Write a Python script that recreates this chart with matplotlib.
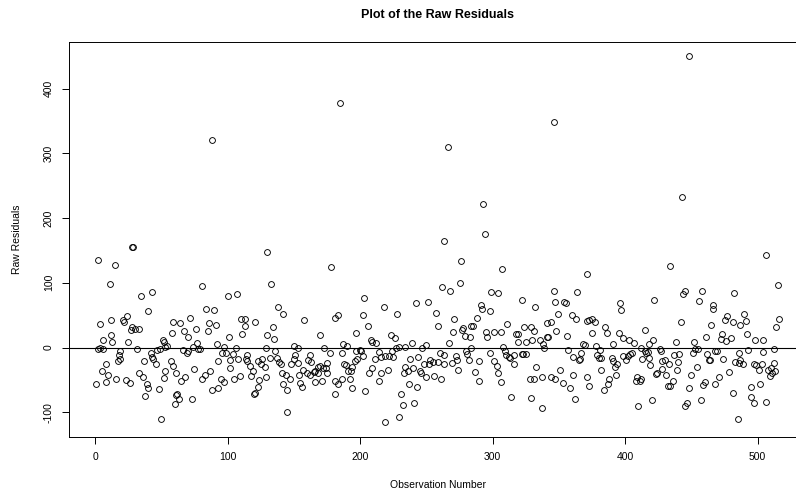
import matplotlib.pyplot as plt

# observation number (x) and raw residual (y), left to right
obs_number = [
    2, 15, 28, 29, 11, 35, 43, 40, 4, 12,
    21, 24, 22, 28, 30, 33, 27, 59, 58, 6,
    12, 13, 25, 51, 52, 53, 54, 2, 6, 32,
    47, 49, 19, 18, 42, 43, 44, 17, 19, 46,
    37, 57, 59, 8, 5, 53, 10, 33, 36, 39,
    52, 1, 8, 16, 23, 26, 40, 48, 38, 50,
    60, 4,
    81, 100, 107, 84, 90, 64, 72, 67, 70, 76,
    85, 86, 91, 101, 110, 113, 113, 111, 121, 77,
    78, 79, 74, 70, 69, 66, 92, 97, 96, 99,
    106, 104, 108, 93, 102, 102, 115, 114, 115, 117,
    119, 118, 123, 126, 125, 61, 68, 65, 75, 81,
    83, 87, 95, 97, 105, 109, 88, 93, 121, 120,
    124, 123, 62, 63, 73, 61, 88,
    130, 178, 185, 133, 138, 142, 158, 181, 183, 134,
    130, 135, 170, 129, 136, 150, 153, 173, 177, 187,
    190, 186, 132, 137, 139, 140, 151, 150, 148, 153,
    161, 162, 163, 168, 170, 172, 175, 174, 128, 129,
    141, 144, 147, 142, 145, 154, 155, 156, 157, 160,
    162, 165, 166, 168, 166, 171, 175, 181, 183, 186,
    181, 188, 189, 191, 193, 194, 192, 194, 145,
    263, 266, 262, 203, 218, 228, 242, 251, 257, 259,
    202, 206, 197, 223, 226, 208, 212, 209, 200, 197,
    201, 214, 216, 219, 222, 224, 225, 227, 229, 234,
    239, 247, 250, 260, 263, 198, 196, 202, 211, 238,
    244, 248, 253, 255, 252, 259, 263, 209, 207, 216,
    221, 234, 233, 236, 240, 245, 246, 250, 256, 261,
    214, 237, 243, 204, 231, 232, 241, 219, 229,
    276, 307, 275, 268, 299, 304, 322, 332, 291, 292,
    298, 288, 271, 311, 285, 284, 278, 277, 270, 279,
    283, 295, 296, 301, 306, 318, 319, 324, 329, 331,
    319, 325, 330, 267, 284, 280, 281, 282, 308, 309,
    310, 312, 313, 316, 322, 323, 325, 272, 273, 269,
    274, 290, 298, 301, 303, 304, 306, 316, 287, 290,
    328, 331, 333, 314, 329, 293, 294,
    346, 371, 346, 364, 347, 354, 355, 396, 397, 349,
    360, 363, 341, 344, 371, 373, 375, 377, 385, 386,
    348, 395, 398, 341, 342, 356, 375, 336, 338, 339,
    368, 370, 378, 381, 391, 357, 367, 366, 361, 365,
    379, 380, 382, 390, 391, 394, 392, 398, 351, 382,
    337, 344, 347, 361, 371, 353, 358, 373, 393, 388,
    387, 384, 362, 337,
    448, 443, 434, 445, 444, 458, 422, 456, 466, 466,
    442, 465, 461, 415, 403, 407, 421, 418, 438, 452,
    455, 453, 451, 412, 415, 416, 417, 426, 427, 402,
    404, 405, 401, 413, 418, 419, 428, 430, 433, 437,
    441, 440, 439, 428, 431, 423, 424, 450, 454, 462,
    463, 464, 409, 408, 411, 412, 436, 432, 434, 448,
    460, 459, 468, 410, 420, 447, 445, 457,
    482, 475, 477, 481, 487, 490, 491, 473, 472, 476,
    480, 492, 498, 504, 468, 469, 474, 486, 493, 483,
    486, 489, 487, 497, 499, 503, 501, 504, 512, 508,
    509, 511, 513, 512, 478, 471, 481, 495, 502, 495,
    497, 506, 485, 506, 515, 516, 514, 510,
]

raw_residual = [
    135, 127, 155, 155, 98, 80, 86, 56, 36, 43,
    43, 49, 39, 31, 28, 28, 27, 40, 22, 12,
    19, 8, 8, 11, 8, 1, 2, -3, -3, -3,
    -4, -2, -5, -11, -9, -14, -18, -21, -18, -26,
    -21, -21, -28, -26, -36, -36, -42, -40, -45, -57,
    -47, -57, -53, -48, -50, -55, -62, -64, -75, -110,
    -87, -1,
    95, 80, 83, 59, 58, 38, 46, 26, 16, 28,
    26, 38, 35, 17, 44, 44, 33, 21, 40, 7,
    -2, -2, 1, -6, -9, -4, 5, 1, -8, -8,
    -1, -10, -17, -21, -20, -31, -12, -18, -21, -28,
    -36, -44, -21, -17, -25, -39, -45, -51, -33, -48,
    -42, -36, -48, -54, -48, -44, -65, -63, -70, -71,
    -50, -61, -72, -80, -80, -74, 320,
    147, 124, 378, 98, 63, 52, 42, 46, 51, 31,
    20, 13, 19, 0, -6, 2, 0, -1, -8, 6,
    3, -8, -16, -16, -22, -26, -12, -18, -26, -24,
    -20, -12, -23, -30, -28, -31, -24, -31, -30, -46,
    -40, -43, -49, -57, -65, -43, -55, -61, -35, -40,
    -43, -38, -36, -40, -54, -52, -39, -52, -57, -49,
    -72, -25, -27, -36, -36, -30, -49, -63, -99,
    165, 309, 94, 76, 62, 52, 69, 70, 54, 33,
    51, 33, 23, 19, 14, 11, 7, 9, -4, -5,
    -5, -7, -14, -13, -13, -5, -14, -1, 1, 1,
    7, -1, 4, -8, -12, -17, -21, -13, -17, -17,
    -14, -25, -20, -23, -26, -23, -25, -32, -40, -39,
    -35, -30, -39, -36, -32, -37, -40, -45, -44, -48,
    -52, -57, -61, -67, -72, -89, -85, -115, -107,
    133, 122, 99, 88, 86, 84, 73, 63, 65, 59,
    56, 46, 44, 37, 34, 34, 30, 27, 24, 18,
    17, 24, 17, 24, 24, 21, 21, 31, 32, 25,
    8, 8, 11, 7, -1, -5, -10, -20, 1, -6,
    -12, -15, -16, -12, -10, -10, -10, -13, -19, -24,
    -34, -21, -9, -21, -28, -39, -53, -25, -38, -52,
    -49, -49, -30, -76, -78, 221, 175,
    348, 114, 88, 86, 71, 70, 68, 69, 58, 52,
    50, 44, 38, 39, 41, 42, 44, 39, 31, 22,
    26, 22, 15, 17, 17, 18, 22, 11, 5, 0,
    6, 4, 2, -4, 6, -4, -9, -18, -15, -20,
    -12, -16, -16, -16, -21, -26, -30, -13, -34, -34,
    -46, -45, -48, -43, -45, -55, -63, -60, -42, -48,
    -56, -65, -80, -93,
    450, 232, 126, 88, 82, 87, 74, 72, 65, 59,
    40, 35, 17, 27, 11, 7, 11, 6, 8, 9,
    -2, -3, -9, 0, -6, -9, -7, -3, -6, -13,
    -10, -9, -20, -17, -16, -27, -21, -19, -26, -11,
    -10, -23, -35, -33, -42, -41, -40, -42, -30, -10,
    -20, -19, -45, -52, -51, -48, -51, -60, -60, -62,
    -53, -58, -56, -90, -81, -85, -90, -81,
    84, 42, 49, 40, 35, 52, 41, 21, 13, 10,
    15, 21, 12, 12, -6, -6, -18, -8, -4, -22,
    -24, -26, -19, -26, -27, -26, -35, -7, -3, -35,
    -44, -40, -36, -24, -38, -45, -70, -61, -57, -76,
    -86, -84, -110, 143, 97, 44, 32, -31,
]

x_ticks = [0, 100, 200, 300, 400, 500]
y_ticks = [-100, 0, 100, 200, 300, 400]

plt.rcParams['font.family'] = ['Liberation Sans', 'DejaVu Sans']

fig = plt.figure(figsize=(7.96, 4.99), dpi=100)
# plot region runs a little past the right edge, as in the reference
ax = fig.add_axes([0.0868, 0.125, 0.926, 0.7918])

ax.plot(obs_number, raw_residual, 'o', mfc='none', mec='black', ms=4.2, mew=0.65)
ax.axhline(0, color='black', lw=0.8)

# R style axis padding of 4%
n = max(obs_number)
ax.set_xlim(1 - 0.04 * (n - 1), n + 0.04 * (n - 1))
lo, hi = min(raw_residual), max(raw_residual)
pad = 0.04 * (hi - lo)
ax.set_ylim(lo - pad, hi + pad)

ax.set_xticks(x_ticks)
ax.set_yticks(y_ticks)
ax.set_yticklabels([str(v) for v in y_ticks], rotation=90, va='center')
ax.tick_params(direction='out', length=5, width=0.7, labelsize=7.5, pad=6)
for s in ax.spines.values():
    s.set_linewidth(0.7)

ax.set_title('Plot of the Raw Residuals', fontsize=9, fontweight='bold', pad=17)
ax.set_xlabel('Observation Number', fontsize=7.5, va='center')
ax.xaxis.set_label_coords(0.5, -0.1225)
ax.set_ylabel('Raw Residuals', fontsize=7.5, va='center')
ax.yaxis.set_label_coords(-0.0711, 0.5)

fig.savefig('out.png', dpi=100)
